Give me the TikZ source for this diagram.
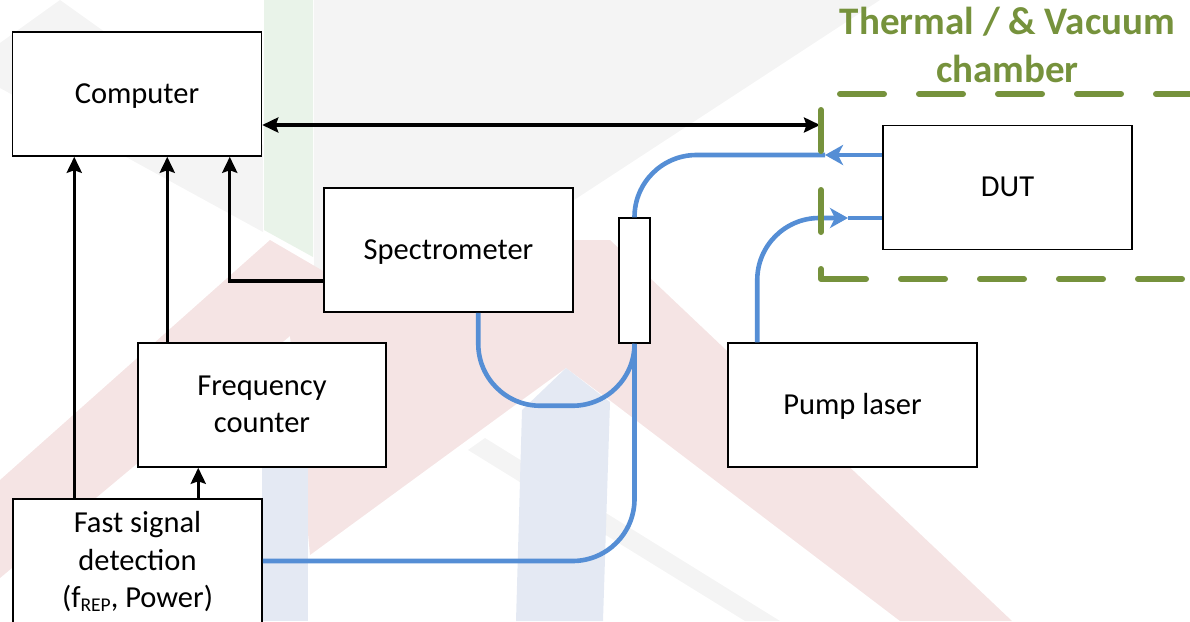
\documentclass[tikz,border=0pt]{standalone}
\usepackage{fontspec}
\setmainfont{Carlito}
\usetikzlibrary{arrows.meta,calc}

\definecolor{fiberblue}{RGB}{85,142,213}
\definecolor{chambergreen}{RGB}{118,146,60}
\definecolor{wmgreen}{RGB}{233,243,233}
\definecolor{wmpink}{RGB}{245,228,228}
\definecolor{wmblue}{RGB}{228,233,243}
\definecolor{wmgray}{RGB}{244,244,244}

\newcommand{\boxfont}{\fontsize{30.5}{37.5}\selectfont}
\newcommand{\titlefont}{\fontsize{39}{48}\selectfont\bfseries}
% fixed line height/depth so every label sits at the same optical centre
\newcommand{\lstrut}{\rule[-7pt]{0pt}{32pt}}
\newcommand{\repsub}{\raisebox{-4pt}{\fontsize{19.5}{19.5}\selectfont REP}}

\tikzset{
  sigtip/.tip={Stealth[length=16pt,width=15pt,inset=2.5pt]},
  fibtip/.tip={Stealth[length=18pt,width=20pt,inset=5pt]},
}

\begin{document}
\begin{tikzpicture}[x=1pt,y=-1pt,
  unit/.style={draw=black, fill=white, line width=1.5pt, inner sep=0pt,
    minimum width=249pt, minimum height=124pt, align=center, font=\boxfont},
  coupler/.style={draw=black, fill=white, line width=1.5pt, inner sep=0pt,
    minimum width=31pt, minimum height=125pt},
  sig/.style={line width=3.4pt, -sigtip},
  fiber/.style={draw=fiberblue, line width=4.6pt},
  wall/.style={draw=chambergreen, line width=6pt, line cap=round, line join=round},
  title/.style={text=chambergreen, font=\titlefont, inner sep=0pt, anchor=base},
]
\useasboundingbox (0,0) rectangle (1190,621);

% faint logo watermark behind the diagram
\fill[wmgray] (60,0) -- (263,145) -- (263,232) -- (0,88) -- (0,43) -- cycle;
\fill[wmgray] (314,0) -- (880,0) -- (314,370) -- cycle;
\fill[wmgray] (468,450) -- (485,438) -- (780,621) -- (745,621) -- cycle;
\fill[wmpink] (0,480) -- (270,240) -- (330,275) -- (575,240) -- (610,240)
  -- (1012,621) -- (900,621) -- (612,402) -- (566,368) -- (522,400)
  -- (310,555) -- (290,336) -- (0,578) -- cycle;
\fill[wmgreen] (264,0) -- (313,0) -- (313,257) -- (264,230) -- cycle;
\fill[wmblue] (522,410) -- (566,368) -- (610,402) -- (603,621) -- (516,621) -- cycle;
\fill[wmblue] (262,430) -- (308,430) -- (308,621) -- (262,621) -- cycle;

% instruments
\node[unit] (comp) at (137,94) {\lstrut Computer};
\node[unit] (spec) at (448.5,250) {\lstrut Spectrometer};
\node[unit, minimum width=248pt] (freq) at (262,405) {\lstrut Frequency\\\lstrut counter};
\node[unit] (fast) at (137.5,561) {\lstrut Fast signal\\\lstrut detection\\\lstrut (f\repsub, Power)};
\node[unit] (dut) at (1007.5,187.5) {\lstrut DUT};
\node[unit] (pump) at (852.5,405) {\lstrut Pump laser};
\node[coupler] (coup) at (634.5,280.5) {};

% connection points
\coordinate (fastA) at ([xshift=62pt]fast.north west);
\coordinate (fastB) at ([xshift=186pt]fast.north west);
\coordinate (freqA) at ([xshift=30pt]freq.north west);
\coordinate (specA) at ([yshift=-31pt]spec.west);
\coordinate (compA) at ([xshift=218pt]comp.south west);
\coordinate (compB) at ([yshift=-31pt]comp.east);
\coordinate (wallA) at (820,125);
\coordinate (specB) at ([xshift=155pt]spec.south west);
\coordinate (dutA) at ([yshift=32.5pt]dut.west);
\coordinate (dutB) at ([yshift=-30.5pt]dut.west);
\coordinate (pumpA) at ([xshift=30pt]pump.north west);
\coordinate (tipA) at (825,155);
\coordinate (tipB) at (848,218);

% electrical signals
\draw[sig] (fastA) -- (fastA |- comp.south);
\draw[sig] (freqA) -- (freqA |- comp.south);
\draw[sig] (specA) -| (compA);
\draw[sig] (fastB) -- (fastB |- freq.south);
\draw[sig, sigtip-sigtip] (compB) -- (wallA);

% optical fibres
\draw[fiber, rounded corners=62pt] (specB) -- ++(0,93) -| (coup.south);
\draw[fiber, rounded corners=62pt] (fast.east) -| (coup.south);
\draw[fiber, -fibtip] (dutA) -- (tipA);
\draw[fiber, rounded corners=62pt] (tipA) -| (coup.north);
\draw[fiber, rounded corners=62pt, -fibtip] (pumpA) |- (tipB);
\draw[fiber] (tipB) -- (dutB);

% thermal / vacuum chamber wall
\draw[wall] (821,110) -- (821,151);
\draw[wall] (821,190) -- (821,232);
\draw[wall] (821,269) -- (821,279) -- (866,279);
\foreach \a in {901,980,1059,1138} \draw[wall] (\a,279) -- ++(44,0);
\foreach \a in {840,919,998,1077,1156} \draw[wall] (\a,94) -- ++(44,0);

\node[title] (ttl1) at (1007.5,34) {Thermal / \& Vacuum};
\node[title] (ttl2) at (1007.5,82) {chamber};
\end{tikzpicture}
\end{document}
